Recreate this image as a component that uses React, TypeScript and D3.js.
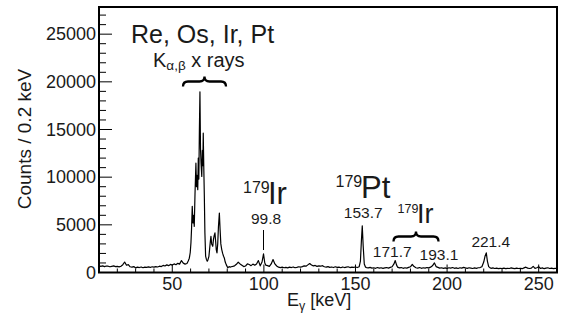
import React from 'react';
import * as d3 from 'd3';

const W = 561;
const H = 319;
const M = { left: 99, right: 4, top: 7, bottom: 46.5 };

const xDomain: [number, number] = [10, 260];
const yDomain: [number, number] = [0, 27850];
const xTicks = [50, 100, 150, 200, 250];
const yTicks = [0, 5000, 10000, 15000, 20000, 25000];

// spectrum pieces: [energy keV, counts per 0.2 keV]
const lowEnergySpectrum: [number, number][] = [
  [10, 700], [11, 640], [12, 690], [13, 620], [14, 680], [15, 660], [16, 600], [17, 650], [18, 700], [19, 620],
  [20, 640], [21, 590], [22, 660], [23, 820], [24, 1100], [25, 760], [26, 820], [27, 600], [28, 560], [29, 620],
  [30, 480], [31, 560], [32, 520], [33, 580], [34, 500], [35, 560], [36, 540], [37, 590], [38, 530], [39, 600],
  [40, 560], [41, 620], [42, 580], [43, 660], [44, 620], [45, 740], [46, 680], [47, 800], [48, 720], [49, 850],
  [50, 780], [51, 900], [52, 820], [53, 960], [54, 880], [55, 1250], [56, 980], [57, 880], [58, 940],
];

const xraySpectrum: [number, number][] = [
  [58.7, 1200], [59.3, 1500], [59.8, 2100], [60.2, 3140], [60.5, 4500], [60.9, 6940], [61.3, 5200], [61.6, 6000],
  [62.0, 4840], [62.4, 8200], [62.9, 11470], [63.2, 9000], [63.5, 10200], [63.9, 8680], [64.2, 12000], [64.5, 9800],
  [64.8, 15000], [65.1, 18960], [65.4, 13000], [65.7, 11500], [66.1, 10070], [66.4, 12800], [66.7, 11200],
  [66.9, 14610], [67.2, 11000], [67.5, 8000], [67.8, 4200], [68.2, 1710], [68.6, 1400], [69.1, 1180], [69.5, 1350],
  [70.0, 1700], [70.4, 2500], [70.8, 3300], [71.1, 3800], [71.5, 3000], [72.1, 2750], [72.5, 3500], [72.9, 3900],
  [73.3, 4150], [73.7, 3200], [74.0, 2400], [74.4, 2060], [74.8, 3000], [75.2, 4800], [75.7, 6240], [76.1, 4500],
  [76.5, 3000], [77.0, 2400], [77.5, 2000], [78.0, 1700], [78.4, 1530], [78.9, 1100], [79.5, 800], [80.3, 490],
  [81.0, 620], [81.6, 560], [82.2, 600],
];

const midSpectrum: [number, number][] = [
  [83, 640], [84, 700], [85, 860], [86, 1080], [87, 900], [88, 760], [89, 620], [90, 680], [91, 900], [92, 840],
  [93, 720], [94, 880], [95, 760], [96, 900], [97, 1250], [98, 700], [99, 1100], [99.8, 1950], [100.5, 1000],
  [101, 780], [102, 720], [103, 640], [104, 900], [105, 1360], [106, 900], [107, 680], [108, 560], [109, 520],
  [110, 560], [111, 500], [112, 540], [113, 480], [114, 560], [115, 520], [116, 580], [117, 500], [118, 540],
  [119, 600], [120, 560], [121, 620], [122, 700], [123, 660], [124, 800], [125, 940], [126, 780], [127, 700],
  [128, 740], [129, 640], [130, 700], [131, 660], [132, 720], [133, 600], [134, 560], [135, 620], [136, 540],
  [137, 580], [138, 520], [139, 600], [140, 540], [141, 560], [142, 500], [143, 580], [144, 520], [145, 560],
  [146, 600], [147, 520], [148, 560], [149, 540], [150, 580],
];

const highSpectrum: [number, number][] = [
  [151, 520], [152, 600], [152.7, 1200], [153.2, 3200], [153.7, 4900], [154.2, 2800], [154.8, 900], [155.5, 560],
  [156, 520], [157, 480], [158, 540], [159, 460], [160, 500], [161, 440], [162, 520], [163, 460], [164, 500],
  [165, 430], [166, 480], [167, 520], [168, 460], [169, 540], [170, 600], [171, 900], [171.7, 1250], [172.4, 800],
  [173, 560], [174, 480], [175, 520], [176, 440], [177, 500], [178, 460], [179, 540], [180, 600], [181, 840],
  [182, 620], [183, 500], [184, 460], [185, 520], [186, 440], [187, 500], [188, 460], [189, 520], [190, 480],
  [191, 560], [192, 700], [193.1, 1010], [194, 620], [195, 540], [196, 460], [197, 500], [198, 440], [199, 480],
  [200, 420], [201, 500], [202, 460], [203, 520], [204, 440], [205, 480], [206, 420], [207, 500], [208, 460],
  [209, 540], [210, 480], [211, 440], [212, 500], [213, 460], [214, 420], [215, 480], [216, 440], [217, 500],
  [218, 520], [219, 600], [220, 1100], [220.7, 1700], [221.4, 2060], [222, 1200], [222.7, 620], [223.5, 480],
  [224, 440], [225, 480], [226, 420], [227, 460], [228, 400], [229, 440], [230, 420], [231, 460], [232, 400],
  [233, 440], [234, 420], [235, 480], [236, 440], [237, 400], [238, 460], [239, 420], [240, 440], [241, 400],
  [242, 480], [243, 560], [244, 460], [245, 420], [246, 460], [247, 640], [248, 440], [249, 500], [250, 600],
  [251, 420], [252, 480], [253, 400], [254, 460], [255, 500], [256, 420], [257, 460], [258, 400], [259, 440],
  [260, 420],
];

const peakEnergies = [99.8, 153.7, 171.7, 193.1, 221.4];
const peakLabels = ['99.8', '153.7', '171.7', '193.1', '221.4'];

const FONT = '"Liberation Sans", Arial, Helvetica, sans-serif';
const INK = '#1a1a1a';

function bracePath(x0: number, x1: number, yTip: number, yMid: number, yEnd: number) {
  const xm = (x0 + x1) / 2;
  const q = 5;
  return `M${x0},${yEnd} Q${x0},${yMid} ${x0 + q},${yMid} L${xm - q},${yMid} Q${xm},${yMid} ${xm},${yTip} ` +
    `Q${xm},${yMid} ${xm + q},${yMid} L${x1 - q},${yMid} Q${x1},${yMid} ${x1},${yEnd}`;
}

export default function App() {
  const x = d3.scaleLinear().domain(xDomain).range([M.left, W - M.right]);
  const y = d3.scaleLinear().domain(yDomain).range([H - M.bottom, M.top]);
  const spectrum = [...lowEnergySpectrum, ...xraySpectrum, ...midSpectrum, ...highSpectrum];
  const line = d3.line<[number, number]>().x(d => x(d[0])).y(d => y(d[1]));

  const x0 = M.left, x1 = W - M.right, y0 = H - M.bottom, y1 = M.top;
  const xMinor = d3.range(10, 261, 10).filter(v => !xTicks.includes(v));
  const yMinor = d3.range(0, 27851, 1000).filter(v => !yTicks.includes(v));

  // label placement offsets relative to peak position
  const labelDx = [2.5, 1, -3, 4.5, 4.5];
  const labelY = [224, 218.3, 256.7, 260, 246.7];

  return (
    <svg width={W} height={H} style={{ position: 'absolute', left: 0, top: 0, background: '#fff' }}
      fontFamily={FONT}>
      <rect x={0} y={0} width={W} height={H} fill="#fff" />
      <defs>
        <clipPath id="plot"><rect x={x0} y={y1} width={x1 - x0} height={y0 - y1} /></clipPath>
      </defs>
      <path d={line(spectrum) || ''} fill="none" stroke="#000" strokeWidth={1.2} strokeLinejoin="round"
        clipPath="url(#plot)" />

      {/* ticks */}
      {xTicks.map(v => <line key={'xt' + v} x1={x(v)} x2={x(v)} y1={y0} y2={y0 - 8} stroke="#000" strokeWidth={1} />)}
      {xMinor.map(v => <line key={'xm' + v} x1={x(v)} x2={x(v)} y1={y0} y2={y0 - 4} stroke="#000" strokeWidth={1} />)}
      {yTicks.map(v => <line key={'yt' + v} x1={x0} x2={x0 + 13} y1={y(v)} y2={y(v)} stroke="#000" strokeWidth={1} />)}
      {yMinor.map(v => <line key={'ym' + v} x1={x0} x2={x0 + 7} y1={y(v)} y2={y(v)} stroke="#000" strokeWidth={1} />)}

      <rect x={x0} y={y1} width={x1 - x0} height={y0 - y1} fill="none" stroke="#000" strokeWidth={2} />

      {/* tick labels */}
      {xTicks.map(v => (
        <text key={'xl' + v} x={x(v)} y={289.5} textAnchor="middle" fontSize={18} fill={INK}>{v}</text>
      ))}
      {yTicks.map(v => (
        <text key={'yl' + v} x={96} y={y(v) + 6.3} textAnchor="end" fontSize={18} fill={INK}>{v}</text>
      ))}

      {/* axis titles */}
      <text transform="translate(31,139) rotate(-90)" textAnchor="middle" fontSize={19} fill={INK}>Counts / 0.2 keV</text>
      <text x={287} y={306} fontSize={18} fill={INK}>E<tspan fontSize={12.5} dy={4}>γ</tspan><tspan dy={-4}> [keV]</tspan></text>

      {/* X-ray annotation */}
      <text x={131} y={43.3} fontSize={25} fill={INK}>Re, Os, Ir, Pt</text>
      <text x={153} y={66.7} fontSize={20} fill={INK}>K<tspan fontSize={13.5} dy={3.5}>α,β</tspan><tspan dy={-3.5}> x rays</tspan></text>
      <path d={bracePath(183, 226, 76.5, 81.5, 86.5)} fill="none" stroke="#000" strokeWidth={2.3} />

      {/* nuclide labels */}
      <text x={243} y={193.3} fontSize={16} fill={INK}>179</text>
      <text x={268} y={204} fontSize={31} fill={INK}>Ir</text>
      <text x={335.5} y={187.3} fontSize={16} fill={INK}>179</text>
      <text x={361} y={197.7} fontSize={31} fill={INK}>Pt</text>
      <text x={397.5} y={213.3} fontSize={12.5} fill={INK}>179</text>
      <text x={417} y={222.7} fontSize={27} fill={INK}>Ir</text>
      <path d={bracePath(393.5, 438.5, 231.5, 236.5, 241.5)} fill="none" stroke="#000" strokeWidth={2.3} />

      {/* peak energy labels */}
      {peakEnergies.map((e, i) => (
        <text key={'pl' + i} x={x(e) + labelDx[i]} y={labelY[i]} textAnchor="middle" fontSize={15.5} fill={INK}>
          {peakLabels[i]}
        </text>
      ))}
      <line x1={x(peakEnergies[0])} x2={x(peakEnergies[0])} y1={230} y2={250} stroke="#000" strokeWidth={1} />
    </svg>
  );
}
